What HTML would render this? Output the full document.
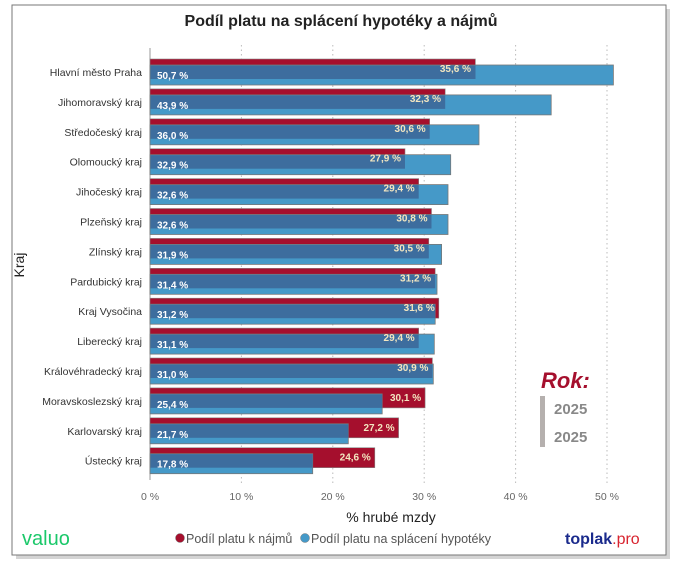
<!DOCTYPE html>
<html><head><meta charset="utf-8"><style>
body{margin:0;background:#fff;width:683px;height:566px;overflow:hidden}
svg{font-family:"Liberation Sans","DejaVu Sans",sans-serif}
</style></head><body>
<svg width="683" height="566" xmlns="http://www.w3.org/2000/svg">
<rect x="16" y="9" width="654" height="550" fill="#aaa" opacity="0.5"/>
<rect x="12" y="5" width="654" height="550" fill="#fff" stroke="#777" stroke-width="1"/>
<text x="341" y="26" text-anchor="middle" font-size="16" font-weight="bold" fill="#222">Podíl platu na splácení hypotéky a nájmů</text>
<g stroke="#bbb" stroke-dasharray="1.5,3" stroke-width="1">
<line x1="241.4" y1="45" x2="241.4" y2="485"/><line x1="332.8" y1="45" x2="332.8" y2="485"/>
<line x1="424.2" y1="45" x2="424.2" y2="485"/><line x1="515.6" y1="45" x2="515.6" y2="485"/>
<line x1="607" y1="45" x2="607" y2="485"/></g>
<line x1="150" y1="48" x2="150" y2="480" stroke="#999"/>
<g font-size="10.5" fill="#666" text-anchor="middle">
<text x="150" y="500">0 %</text><text x="241.4" y="500">10 %</text><text x="332.8" y="500">20 %</text><text x="424.2" y="500">30 %</text><text x="515.6" y="500">40 %</text><text x="607" y="500">50 %</text></g>
<text x="391" y="522" text-anchor="middle" font-size="14" fill="#222">% hrubé mzdy</text>
<text transform="translate(24,265) rotate(-90)" text-anchor="middle" font-size="14" fill="#222">Kraj</text>
<g id="bars">
<!-- rows -->
<g transform="translate(0,59)"><rect x="150" y="0" width="325.4" height="20" fill="#a50f2d" stroke="#888" stroke-width=".6"/><rect x="150" y="6" width="463.4" height="20" fill="#4599c8" stroke="#777" stroke-width=".8"/><rect x="150.5" y="6.5" width="325" height="13.5" fill="#3d6d9e"/></g>
<g transform="translate(0,88.9)"><rect x="150" y="0" width="295.2" height="20" fill="#a50f2d" stroke="#888" stroke-width=".6"/><rect x="150" y="6" width="401.2" height="20" fill="#4599c8" stroke="#777" stroke-width=".8"/><rect x="150.5" y="6.5" width="294.7" height="13.5" fill="#3d6d9e"/></g>
<g transform="translate(0,118.8)"><rect x="150" y="0" width="279.7" height="20" fill="#a50f2d" stroke="#888" stroke-width=".6"/><rect x="150" y="6" width="329" height="20" fill="#4599c8" stroke="#777" stroke-width=".8"/><rect x="150.5" y="6.5" width="279.2" height="13.5" fill="#3d6d9e"/></g>
<g transform="translate(0,148.7)"><rect x="150" y="0" width="255" height="20" fill="#a50f2d" stroke="#888" stroke-width=".6"/><rect x="150" y="6" width="300.7" height="20" fill="#4599c8" stroke="#777" stroke-width=".8"/><rect x="150.5" y="6.5" width="254.5" height="13.5" fill="#3d6d9e"/></g>
<g transform="translate(0,178.6)"><rect x="150" y="0" width="268.7" height="20" fill="#a50f2d" stroke="#888" stroke-width=".6"/><rect x="150" y="6" width="298" height="20" fill="#4599c8" stroke="#777" stroke-width=".8"/><rect x="150.5" y="6.5" width="268.2" height="13.5" fill="#3d6d9e"/></g>
<g transform="translate(0,208.5)"><rect x="150" y="0" width="281.5" height="20" fill="#a50f2d" stroke="#888" stroke-width=".6"/><rect x="150" y="6" width="298" height="20" fill="#4599c8" stroke="#777" stroke-width=".8"/><rect x="150.5" y="6.5" width="281" height="13.5" fill="#3d6d9e"/></g>
<g transform="translate(0,238.4)"><rect x="150" y="0" width="278.8" height="20" fill="#a50f2d" stroke="#888" stroke-width=".6"/><rect x="150" y="6" width="291.6" height="20" fill="#4599c8" stroke="#777" stroke-width=".8"/><rect x="150.5" y="6.5" width="278.3" height="13.5" fill="#3d6d9e"/></g>
<g transform="translate(0,268.3)"><rect x="150" y="0" width="285.2" height="20" fill="#a50f2d" stroke="#888" stroke-width=".6"/><rect x="150" y="6" width="287" height="20" fill="#4599c8" stroke="#777" stroke-width=".8"/><rect x="150.5" y="6.5" width="284.7" height="13.5" fill="#3d6d9e"/></g>
<g transform="translate(0,298.2)"><rect x="150" y="0" width="288.8" height="20" fill="#a50f2d" stroke="#888" stroke-width=".6"/><rect x="150" y="6" width="285.2" height="20" fill="#4599c8" stroke="#777" stroke-width=".8"/><rect x="150.5" y="6.5" width="284.7" height="13.5" fill="#3d6d9e"/></g>
<g transform="translate(0,328.1)"><rect x="150" y="0" width="268.7" height="20" fill="#a50f2d" stroke="#888" stroke-width=".6"/><rect x="150" y="6" width="284.3" height="20" fill="#4599c8" stroke="#777" stroke-width=".8"/><rect x="150.5" y="6.5" width="268.2" height="13.5" fill="#3d6d9e"/></g>
<g transform="translate(0,358)"><rect x="150" y="0" width="282.4" height="20" fill="#a50f2d" stroke="#888" stroke-width=".6"/><rect x="150" y="6" width="283.3" height="20" fill="#4599c8" stroke="#777" stroke-width=".8"/><rect x="150.5" y="6.5" width="281.9" height="13.5" fill="#3d6d9e"/></g>
<g transform="translate(0,387.9)"><rect x="150" y="0" width="275.1" height="20" fill="#a50f2d" stroke="#888" stroke-width=".6"/><rect x="150" y="6" width="232.2" height="20" fill="#4599c8" stroke="#777" stroke-width=".8"/><rect x="150.5" y="6.5" width="231.7" height="13.5" fill="#3d6d9e"/></g>
<g transform="translate(0,417.8)"><rect x="150" y="0" width="248.6" height="20" fill="#a50f2d" stroke="#888" stroke-width=".6"/><rect x="150" y="6" width="198.3" height="20" fill="#4599c8" stroke="#777" stroke-width=".8"/><rect x="150.5" y="6.5" width="197.8" height="13.5" fill="#3d6d9e"/></g>
<g transform="translate(0,447.7)"><rect x="150" y="0" width="224.8" height="20" fill="#a50f2d" stroke="#888" stroke-width=".6"/><rect x="150" y="6" width="162.7" height="20" fill="#4599c8" stroke="#777" stroke-width=".8"/><rect x="150.5" y="6.5" width="162.2" height="13.5" fill="#3d6d9e"/></g>
</g>
<g font-size="10" font-weight="bold" fill="#fff">
<text x="157" y="79">50,7 %</text><text x="157" y="108.9">43,9 %</text><text x="157" y="138.8">36,0 %</text><text x="157" y="168.7">32,9 %</text><text x="157" y="198.6">32,6 %</text><text x="157" y="228.5">32,6 %</text><text x="157" y="258.4">31,9 %</text><text x="157" y="288.3">31,4 %</text><text x="157" y="318.2">31,2 %</text><text x="157" y="348.1">31,1 %</text><text x="157" y="378">31,0 %</text><text x="157" y="407.9">25,4 %</text><text x="157" y="437.8">21,7 %</text><text x="157" y="467.7">17,8 %</text></g>
<g font-size="10" font-weight="bold" fill="#f3e6c0" text-anchor="end">
<text x="471" y="72">35,6 %</text><text x="441" y="101.9">32,3 %</text><text x="425.7" y="131.8">30,6 %</text><text x="401" y="161.7">27,9 %</text><text x="414.7" y="191.6">29,4 %</text><text x="427.5" y="221.5">30,8 %</text><text x="424.8" y="251.4">30,5 %</text><text x="431.2" y="281.3">31,2 %</text><text x="434.8" y="311.2">31,6 %</text><text x="414.7" y="341.1">29,4 %</text><text x="428.4" y="371">30,9 %</text><text x="421.1" y="400.9">30,1 %</text><text x="394.6" y="430.8">27,2 %</text><text x="370.8" y="460.7">24,6 %</text></g>
<g font-size="10.5" fill="#333" text-anchor="end">
<text x="142" y="76">Hlavní město Praha</text><text x="142" y="105.9">Jihomoravský kraj</text><text x="142" y="135.8">Středočeský kraj</text><text x="142" y="165.7">Olomoucký kraj</text><text x="142" y="195.6">Jihočeský kraj</text><text x="142" y="225.5">Plzeňský kraj</text><text x="142" y="255.4">Zlínský kraj</text><text x="142" y="285.3">Pardubický kraj</text><text x="142" y="315.2">Kraj Vysočina</text><text x="142" y="345.1">Liberecký kraj</text><text x="142" y="375">Královéhradecký kraj</text><text x="142" y="404.9">Moravskoslezský kraj</text><text x="142" y="434.8">Karlovarský kraj</text><text x="142" y="464.7">Ústecký kraj</text></g>
<text x="541" y="388" font-size="22" font-weight="bold" font-style="italic" fill="#a50f2d">Rok:</text>
<rect x="540" y="396" width="5" height="51" fill="#b5b0ae"/>
<text x="554" y="414" font-size="15" font-weight="bold" fill="#888">2025</text>
<text x="554" y="442" font-size="15" font-weight="bold" fill="#888">2025</text>
<text x="22" y="545" font-size="20" fill="#1bc86a">valuo</text>
<circle cx="180" cy="538" r="4.5" fill="#a50f2d" stroke="#777" stroke-width=".5"/>
<text x="186" y="543" font-size="12.5" fill="#555">Podíl platu k nájmů</text>
<circle cx="305" cy="538" r="4.5" fill="#4599c8" stroke="#777" stroke-width=".5"/>
<text x="311" y="543" font-size="12.5" fill="#555">Podíl platu na splácení hypotéky</text>
<text x="565" y="544" font-size="16" font-weight="bold" fill="#1a2a8c">toplak<tspan fill="#d8242f" font-weight="normal">.pro</tspan></text>
</svg>
</body></html>
